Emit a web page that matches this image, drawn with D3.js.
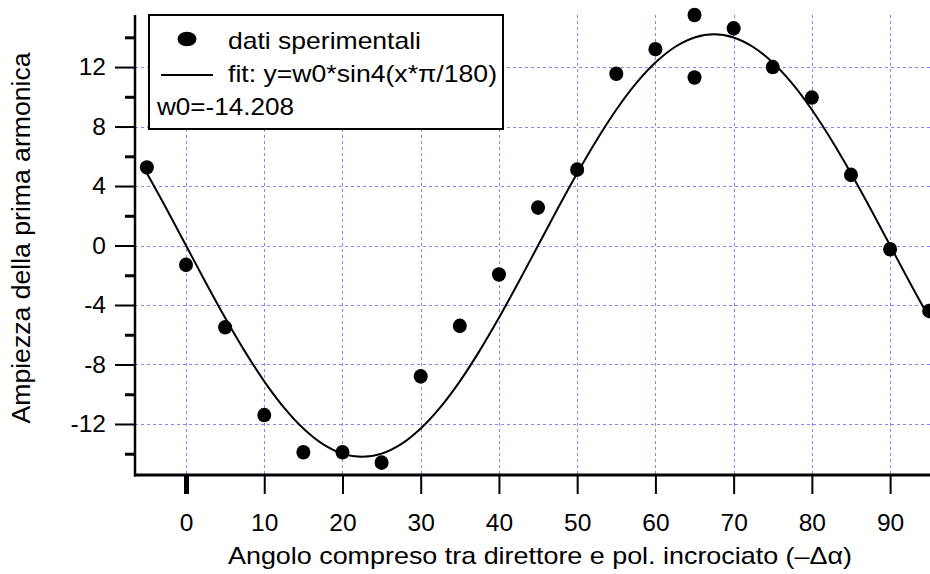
<!DOCTYPE html>
<html>
<head>
<meta charset="utf-8">
<script src="https://cdn.jsdelivr.net/npm/d3@7"></script>
<style>
  html, body { margin: 0; padding: 0; background: #fff; }
  svg { display: block; font-family: "Liberation Sans", Arial, Helvetica, sans-serif; }
</style>
</head>
<body>
<svg id="chart" width="930" height="574"></svg>
<script>
// ---- data ----
const dataX = [-5, 0, 5, 10, 15, 20, 25, 30, 35, 40, 45, 50, 55, 60, 65, 65, 70, 75, 80, 85, 90, 95];
const dataY = [5.25, -1.3, -5.5, -11.4, -13.9, -13.9, -14.6, -8.8, -5.4, -1.95, 2.55, 5.1, 11.55, 13.2, 15.5, 11.3, 14.6, 12.0, 9.95, 4.75, -0.25, -4.4];

const fitX = [-5, -2.5, 0, 2.5, 5, 7.5, 10, 12.5, 15, 17.5, 20, 22.5, 25, 27.5, 30, 32.5, 35, 37.5, 40, 42.5, 45,
              47.5, 50, 52.5, 55, 57.5, 60, 62.5, 65, 67.5, 70, 72.5, 75, 77.5, 80, 82.5, 85, 87.5, 90, 92.5, 95];
const fitY = [4.86, 2.47, 0, -2.47, -4.86, -7.10, -9.13, -10.88, -12.30, -13.35, -13.99, -14.21, -13.99, -13.35, -12.30, -10.88, -9.13, -7.10, -4.86, -2.47, 0,
              2.47, 4.86, 7.10, 9.13, 10.88, 12.30, 13.35, 13.99, 14.21, 13.99, 13.35, 12.30, 10.88, 9.13, 7.10, 4.86, 2.47, 0, -2.47, -4.86];

const xTicks = [0, 10, 20, 30, 40, 50, 60, 70, 80, 90];
const yTicks = [12, 8, 4, 0, -4, -8, -12];
const yMinorTicks = [14, 10, 6, 2, -2, -6, -10, -14];

const legendLabels = ["dati sperimentali", "fit: y=w0*sin4(x*\u03C0/180)", "w0=-14.208"];
const xTitle = "Angolo compreso tra direttore e pol. incrociato (\u2013\u0394\u03B1)";
const yTitle = "Ampiezza della prima armonica";

// ---- layout ----
const svg = d3.select("#chart");
const plotL = 135, plotR = 930, plotT = 15, plotB = 475;

const x = d3.scaleLinear().domain([-6.52, 95.1]).range([plotL, plotR]);
const y = d3.scaleLinear().domain([-15.43, 15.5]).range([plotB, plotT]);

svg.append("rect").attr("width", 930).attr("height", 574).attr("fill", "#fff");

// grid
const grid = svg.append("g").attr("stroke", "#8585ff").attr("stroke-width", 1).attr("stroke-dasharray", "3,3").attr("fill", "none");
grid.selectAll("line.h").data(yTicks).join("line").attr("class", "h")
  .attr("x1", plotL).attr("x2", plotR)
  .attr("y1", d => Math.round(y(d)) + 0.5).attr("y2", d => Math.round(y(d)) + 0.5);
grid.selectAll("line.v").data(xTicks).join("line").attr("class", "v")
  .attr("y1", plotT).attr("y2", plotB)
  .attr("x1", d => Math.round(x(d)) + 0.5).attr("x2", d => Math.round(x(d)) + 0.5);

// axes (d3 axes, then styled)
const fmt = d => String(d);
const xAxis = d3.axisBottom(x).tickValues(xTicks).tickSize(19).tickPadding(20).tickFormat(fmt);
const gx = svg.append("g").attr("transform", `translate(0,${plotB})`).call(xAxis);
gx.select(".domain").remove();
gx.selectAll(".tick line").attr("stroke", "#000").attr("stroke-width", d => d === 0 ? 5 : 2);
gx.selectAll(".tick text").attr("font-size", 24.5).attr("fill", "#000").attr("font-family", "Liberation Sans, Arial, sans-serif");

const yAxis = d3.axisLeft(y).tickValues(yTicks).tickSize(20).tickPadding(9).tickFormat(fmt);
const gy = svg.append("g").attr("transform", `translate(${plotL},0)`).call(yAxis);
gy.select(".domain").remove();
gy.selectAll(".tick line").attr("stroke", "#000").attr("stroke-width", 2);
gy.selectAll(".tick text").attr("font-size", 24.5).attr("fill", "#000").attr("font-family", "Liberation Sans, Arial, sans-serif");

const yMinor = d3.axisLeft(y).tickValues(yMinorTicks).tickSize(10).tickFormat("");
const gym = svg.append("g").attr("transform", `translate(${plotL},0)`).call(yMinor);
gym.select(".domain").remove();
gym.selectAll(".tick line").attr("stroke", "#000").attr("stroke-width", 3);

// axis lines
svg.append("line").attr("x1", plotL).attr("x2", plotL).attr("y1", plotT).attr("y2", plotB + 1.5)
  .attr("stroke", "#000").attr("stroke-width", 2.5);
svg.append("line").attr("x1", plotL - 1).attr("x2", plotR).attr("y1", plotB).attr("y2", plotB)
  .attr("stroke", "#000").attr("stroke-width", 3);

// fit curve
const line = d3.line().x(d => x(d[0])).y(d => y(d[1])).curve(d3.curveCatmullRom);
svg.append("path").datum(fitX.map((v, i) => [v, fitY[i]]))
  .attr("d", line).attr("fill", "none").attr("stroke", "#000").attr("stroke-width", 2);

// data points
svg.append("g").selectAll("ellipse").data(dataX.map((v, i) => [v, dataY[i]])).join("ellipse")
  .attr("cx", d => x(d[0])).attr("cy", d => y(d[1]))
  .attr("rx", 7).attr("ry", 7.3).attr("fill", "#000");

// legend
const lg = svg.append("g");
lg.append("rect").attr("x", 149).attr("y", 15).attr("width", 354).attr("height", 114)
  .attr("fill", "#fff").attr("stroke", "#000").attr("stroke-width", 2);
lg.append("ellipse").attr("cx", 187).attr("cy", 39).attr("rx", 9.5).attr("ry", 7.3).attr("fill", "#000");
lg.append("line").attr("x1", 161).attr("x2", 213).attr("y1", 75).attr("y2", 75).attr("stroke", "#000").attr("stroke-width", 2);
const legendPos = [[228, 49, 193], [228, 82, 269], [157, 115, 137]];
lg.selectAll("text").data(legendLabels).join("text")
  .attr("x", (d, i) => legendPos[i][0]).attr("y", (d, i) => legendPos[i][1])
  .attr("textLength", (d, i) => legendPos[i][2]).attr("lengthAdjust", "spacingAndGlyphs")
  .attr("font-size", 24).attr("fill", "#000").text(d => d);

// axis titles
svg.append("text").attr("x", 540).attr("y", 564).attr("text-anchor", "middle")
  .attr("font-size", 24).attr("textLength", 624).attr("lengthAdjust", "spacingAndGlyphs")
  .attr("fill", "#000").text(xTitle);
svg.append("text").attr("transform", "translate(30,238) rotate(-90)").attr("text-anchor", "middle")
  .attr("font-size", 25.5).attr("textLength", 371).attr("lengthAdjust", "spacingAndGlyphs")
  .attr("fill", "#000").text(yTitle);
</script>
</body>
</html>
